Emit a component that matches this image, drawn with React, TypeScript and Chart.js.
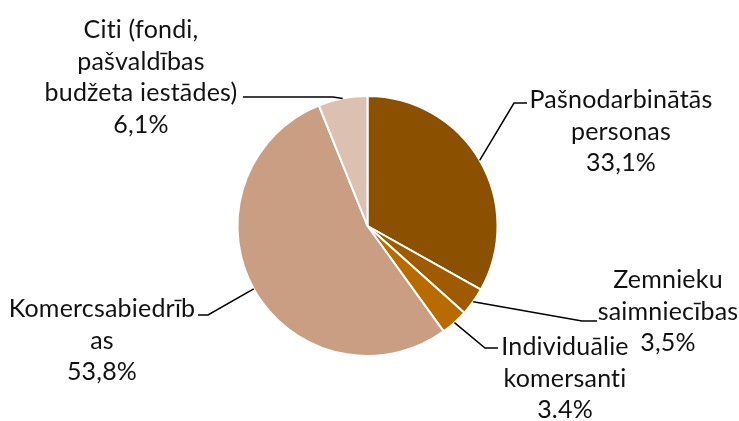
import React, { useEffect, useRef } from "react";
import { Chart, registerables } from "chart.js";

Chart.register(...registerables);

const categories = [
  "Pašnodarbinātās personas",
  "Zemnieku saimniecības",
  "Individuālie komersanti",
  "Komercsabiedrības",
  "Citi (fondi, pašvaldības budžeta iestādes)",
];
const values = [33.1, 3.5, 3.4, 53.8, 6.1];
const valueLabels = ["33,1%", "3,5%", "3.4%", "53,8%", "6,1%"];
const labelLines = [
  ["Pašnodarbinātās", "personas"],
  ["Zemnieku", "saimniecības"],
  ["Individuālie", "komersanti"],
  ["Komercsabiedrīb", "as"],
  ["Citi (fondi,", "pašvaldības", "budžeta iestādes)"],
];
const colors = ["#8b5000", "#a05a00", "#b86c00", "#c99e83", "#dcc1b3"];

// layout: label block centre x, first baseline y, leader elbow and end
const labelLayout = [
  { cx: 621, y0: 108, elbow: [514, 103], end: [527, 103] },
  { cx: 668, y0: 288, elbow: [582, 321], end: [597, 321] },
  { cx: 565, y0: 355, elbow: [485, 348], end: [498, 348] },
  { cx: 102, y0: 317, elbow: [208, 315], end: [198, 315] },
  { cx: 141, y0: 38, elbow: [333, 97], end: [243, 97] },
];
const LINE_H = 31.7;
const FONT = '25px Lato, "Noto Sans", sans-serif';

const labelPlugin = {
  id: "outerLabels",
  afterDatasetsDraw(chart: any) {
    const ctx = chart.ctx;
    const meta = chart.getDatasetMeta(0);
    ctx.save();
    meta.data.forEach((arc: any, i: number) => {
      const L = labelLayout[i];
      const mid = (arc.startAngle + arc.endAngle) / 2;
      const px = arc.x + Math.cos(mid) * arc.outerRadius;
      const py = arc.y + Math.sin(mid) * arc.outerRadius;
      ctx.strokeStyle = "#000";
      ctx.lineWidth = 1.5;
      ctx.beginPath();
      ctx.moveTo(px, py);
      ctx.lineTo(L.elbow[0], L.elbow[1]);
      ctx.lineTo(L.end[0], L.end[1]);
      ctx.stroke();
      ctx.fillStyle = "#111";
      ctx.font = FONT;
      try {
        (ctx as any).letterSpacing = "0.2px";
      } catch (e) {}
      ctx.textAlign = "center";
      ctx.textBaseline = "alphabetic";
      const lines = [...labelLines[i], valueLabels[i]];
      lines.forEach((t, k) => ctx.fillText(t, L.cx, L.y0 + k * LINE_H));
    });
    ctx.restore();
  },
};

export default function App() {
  const ref = useRef<HTMLCanvasElement>(null);
  useEffect(() => {
    document.body.style.margin = "0";
    const chart = new Chart(ref.current!, {
      type: "pie",
      data: {
        labels: categories,
        datasets: [
          {
            data: values,
            backgroundColor: colors,
            borderColor: "#ffffff",
            borderWidth: 2,
          },
        ],
      },
      options: {
        animation: false,
        responsive: false,
        maintainAspectRatio: false,
        layout: { padding: { top: 95, bottom: 64, left: 0, right: 4 } },
        plugins: {
          legend: { display: false },
          tooltip: { enabled: false },
        },
      },
      plugins: [labelPlugin],
    });
    return () => chart.destroy();
  }, []);
  return (
    <div style={{ width: 739, height: 421, background: "#fff" }}>
      <canvas ref={ref} width={739} height={421} />
    </div>
  );
}
